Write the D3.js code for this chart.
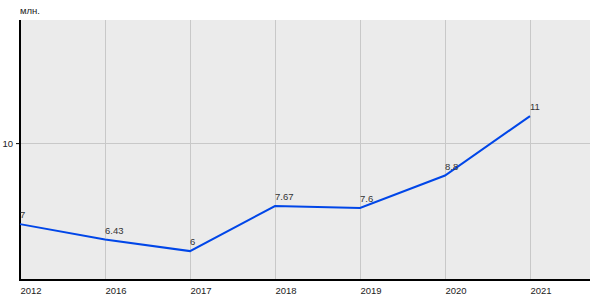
<!DOCTYPE html>
<html>
<head>
<meta charset="utf-8">
<script src="https://cdn.jsdelivr.net/npm/d3@7"></script>
<style>
  body { margin: 0; background: #fff; }
  svg text { font-family: "Liberation Sans", Arial, sans-serif; }
</style>
</head>
<body>
<svg id="chart" width="600" height="300"></svg>
<script>
var years = ["2012", "2016", "2017", "2018", "2019", "2020", "2021"];
var values = [7, 6.43, 6, 7.67, 7.6, 8.8, 11];
var yTicks = [10];
var unitLabel = "млн.";

var plotLeft = 20, plotRight = 590, plotTop = 20, plotBottom = 280;

var svg = d3.select("#chart");

var x = d3.scalePoint().domain(years).range([plotLeft, 530]);
var y = d3.scaleLinear().domain([4.93, 14.56]).range([plotBottom, plotTop]);

// plot background
svg.append("rect")
    .attr("x", plotLeft).attr("y", plotTop)
    .attr("width", plotRight - plotLeft).attr("height", plotBottom - plotTop)
    .attr("fill", "#ebebeb");

// vertical grid
svg.append("g").selectAll("line")
    .data(years.slice(1))
    .enter().append("line")
    .attr("x1", function (d) { return x(d); })
    .attr("x2", function (d) { return x(d); })
    .attr("y1", plotTop).attr("y2", plotBottom)
    .attr("stroke", "#c8c8c8").attr("stroke-width", 1)
    .attr("shape-rendering", "crispEdges");

// horizontal grid
svg.append("g").selectAll("line")
    .data(yTicks)
    .enter().append("line")
    .attr("x1", plotLeft).attr("x2", plotRight)
    .attr("y1", function (d) { return y(d); })
    .attr("y2", function (d) { return y(d); })
    .attr("stroke", "#c8c8c8").attr("stroke-width", 1)
    .attr("shape-rendering", "crispEdges");

// y axis
var yAxis = d3.axisLeft(y).tickValues(yTicks).tickSize(4).tickPadding(3);
var gy = svg.append("g").attr("transform", "translate(" + plotLeft + ",0)").call(yAxis);
gy.select(".domain").remove();
gy.selectAll("line").attr("stroke", "#000");
gy.selectAll("text").attr("font-size", 9.5).attr("fill", "#222")
    .attr("font-family", "Liberation Sans, Arial, sans-serif");
svg.append("line")
    .attr("x1", plotLeft).attr("x2", plotLeft).attr("y1", plotTop).attr("y2", plotBottom)
    .attr("stroke", "#000").attr("stroke-width", 2);

// x axis
var xAxis = d3.axisBottom(x).tickSize(0).tickPadding(0);
var gx = svg.append("g").attr("transform", "translate(0," + plotBottom + ")").call(xAxis);
gx.select(".domain").remove();
gx.selectAll("text")
    .attr("text-anchor", "start")
    .attr("dy", null)
    .attr("y", 14)
    .attr("font-size", 9.5).attr("fill", "#222")
    .attr("font-family", "Liberation Sans, Arial, sans-serif");
svg.append("line")
    .attr("x1", plotLeft - 1).attr("x2", plotRight).attr("y1", plotBottom).attr("y2", plotBottom)
    .attr("stroke", "#000").attr("stroke-width", 2);

// unit label
svg.append("text")
    .attr("x", plotLeft).attr("y", 14)
    .attr("font-size", 9.5).attr("fill", "#222")
    .text(unitLabel);

// line
var line = d3.line()
    .x(function (d, i) { return x(years[i]); })
    .y(function (d) { return y(d); });

svg.append("path")
    .datum(values)
    .attr("d", line)
    .attr("fill", "none")
    .attr("stroke", "#0046e8")
    .attr("stroke-width", 2);

// value labels
svg.append("g").selectAll("text")
    .data(values)
    .enter().append("text")
    .attr("x", function (d, i) { return x(years[i]); })
    .attr("y", function (d) { return y(d) - 6; })
    .attr("font-size", 9.5).attr("fill", "#333")
    .text(function (d) { return d; });
</script>
</body>
</html>
